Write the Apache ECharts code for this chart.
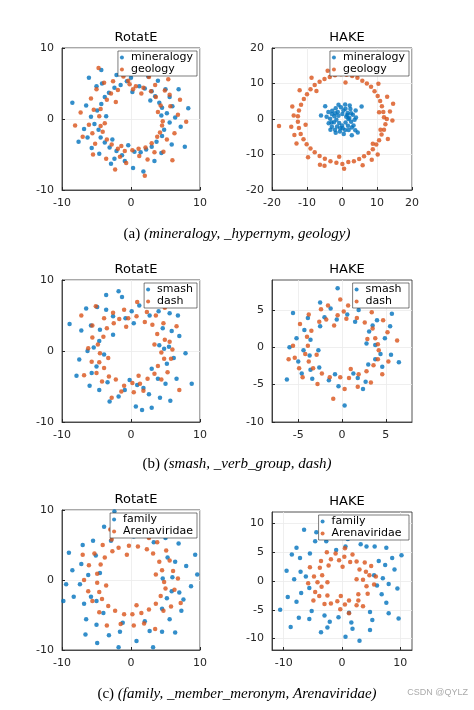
<!DOCTYPE html>
<html>
<head>
<meta charset="utf-8">
<script src="https://cdn.jsdelivr.net/npm/echarts@6/dist/echarts.min.js"></script>
<style>html,body{margin:0;padding:0;background:#fff}#main{width:474px;height:710px}</style>
</head>
<body>
<div id="main"></div>
<script>
// --- data ---
var r1RotMineralogy = [[5.2,0.8],[4.1,2.3],[3.0,3.9],[1.2,4.6],[-0.6,5.3],[-2.4,4.4],[-3.8,3.1],[-4.9,1.2],[-5.3,-0.7],[-4.4,-2.6],[-3.1,-4.0],[-1.3,-5.1],[0.5,-4.6],[2.2,-4.3],[3.7,-3.2],[4.8,-1.5],[6.4,0.2],[5.6,3.1],[3.9,5.4],[0.9,6.7],[-2.1,6.2],[-5.0,4.6],[-6.5,1.9],[-6.8,-1.4],[-5.7,-4.1],[-2.9,-6.3],[0.3,-6.9],[3.4,-5.9],[5.9,-3.6],[7.2,-1.1],[8.3,1.5],[-8.5,2.3],[-7.6,-3.2],[4.4,0.5],[-3.6,0.4],[0.2,3.8],[-0.4,-3.7],[2.8,2.6],[-2.7,-2.9],[6.9,4.2],[-4.3,6.9],[1.8,-7.4],[-6.1,5.8],[7.8,-3.9],
  [4.5,1.6],[3.5,3.2],[2.0,4.3],[-1.5,4.8],[-3.2,3.7],[-4.3,2.1],[-4.7,-1.5],[-3.8,-3.3],[-2.1,-4.5],[1.4,-4.7],[3.0,-3.9],[4.5,-2.4],[5.6,-0.5],[-5.8,0.3],[0.0,5.8],[-0.9,-5.9],[5.0,4.2],[-4.6,-4.9],[4.4,-4.8],[-4.2,5.0],[6.0,1.8],[-6.3,-2.6],[2.5,6.0],[-2.4,-5.6]];
var r1RotGeology = [[4.6,-0.3],[3.6,3.1],[1.8,4.4],[-0.2,4.9],[-1.9,4.1],[-3.5,2.7],[-4.6,0.4],[-4.1,-1.8],[-2.8,-3.6],[-0.9,-4.5],[1.1,-4.2],[3.0,-3.4],[4.2,-1.9],[5.7,1.8],[4.9,4.0],[2.6,5.9],[-1.1,6.0],[-3.9,5.1],[-5.8,2.9],[-6.1,-0.8],[-5.2,-3.5],[-3.6,-5.6],[-0.7,-6.2],[2.4,-5.7],[4.7,-4.6],[6.3,-2.0],[7.1,2.7],[-7.3,0.9],[-7.0,-2.5],[0.8,7.3],[-2.3,-7.1],[5.4,5.6],[-5.5,-5.0],[3.9,1.0],[-3.8,-0.6],[1.5,3.6],[-1.4,-3.8],[8.0,-0.4],[-4.7,7.2],[6.0,-5.8],[-8.1,-0.9],[2.0,-8.0],[0.3,4.2],[-2.2,2.4],
  [4.3,1.9],[2.9,3.9],[0.7,4.6],[-2.9,3.6],[-4.4,1.4],[-4.4,-1.0],[-3.5,-2.9],[-1.9,-4.2],[0.2,-4.4],[2.1,-4.0],[3.8,-2.5],[4.5,-0.9],[5.2,-2.9],[5.6,3.4],[-5.0,4.2],[-5.4,1.3],[-5.6,-2.0],[-1.6,-5.3],[1.2,-5.2],[3.5,4.8],[-2.6,5.3],[6.8,0.6],[-0.4,5.4],[3.4,-4.7]];
var r1HakeMineralogy = [[2.1,0.3],[1.6,1.7],[0.4,2.4],[-1.2,2.0],[-2.2,0.8],[-2.3,-0.9],[-1.4,-2.1],[0.2,-2.6],[1.7,-1.9],[2.6,-0.8],[3.1,1.2],[2.4,2.8],[-0.3,3.3],[-2.8,2.3],[-3.4,0.1],[-2.9,-2.2],[-0.6,-3.5],[1.9,-3.1],[3.3,-1.8],[1.2,0.6],[-1.0,0.9],[-0.8,-1.1],[1.0,-1.0],[0.1,1.4],[-1.6,-0.2],[4.0,0.4],[-3.8,-1.2],[0.9,4.1],[-1.8,-3.9],[5.6,3.5],[-6.0,1.0],[4.5,-3.8],[2.8,-4.6],[-4.8,3.6],[0.0,-1.8],[1.8,0.0],
  [2.6,1.6],[1.0,2.9],[-1.8,3.0],[-2.9,1.4],[-3.0,-1.0],[-2.0,-3.0],[0.9,-3.1],[2.8,-2.4],[3.6,-0.2],[3.9,2.4],[-3.9,2.0],[-1.0,4.0],[2.2,3.8],[-3.3,-3.0],[0.5,-4.2],[3.8,-3.2],[-4.4,0.6],[1.5,1.1],[-0.5,-2.6],[-1.9,1.6]];
var r1HakeGeology = [[12.0,0.5],[11.4,3.6],[10.2,6.5],[8.3,9.1],[5.8,10.8],[2.9,12.1],[-0.3,12.6],[-3.5,11.8],[-6.4,10.5],[-9.0,8.4],[-10.9,5.6],[-12.3,2.4],[-12.6,-0.8],[-11.8,-4.2],[-10.1,-7.1],[-7.8,-9.4],[-4.9,-11.2],[-1.6,-12.3],[1.8,-12.1],[4.9,-11.3],[7.6,-9.6],[9.8,-7.2],[11.3,-4.4],[12.4,-1.5],[13.7,2.1],[12.9,6.3],[10.4,9.9],[6.5,12.8],[1.4,14.2],[-4.1,13.6],[-8.7,11.6],[-12.1,8.1],[-14.2,3.5],[-14.5,-2.2],[-13.0,-6.9],[-9.7,-10.8],[-5.0,-13.2],[0.6,-14.0],[5.9,-13.0],[10.2,-10.0],[13.1,-5.6],[14.4,-0.4],[10.6,1.9],[-10.4,-1.6],[1.0,10.3],[-0.8,-10.6],[8.8,-7.0],[-7.3,7.9],[-18.0,-2.0],[11.0,-3.0],
  [11.8,2.0],[10.9,5.1],[9.3,7.8],[7.1,10.0],[4.4,11.6],[1.3,12.5],[-2.0,12.3],[-5.0,11.3],[-7.8,9.6],[-10.0,7.0],[-11.7,4.0],[-12.6,0.8],[-12.3,-2.5],[-11.0,-5.7],[-9.0,-8.3],[-6.4,-10.4],[-3.3,-11.9],[0.1,-12.7],[3.4,-11.9],[6.3,-10.5],[8.8,-8.5],[10.6,-6.0],[12.0,-3.0],[12.8,0.0],[-13.8,1.0],[-13.6,-4.5],[14.6,4.3],[3.6,13.5],[-6.3,-12.9],[8.5,-11.5]];

var r2RotSmash = [[5.5,0.6],[4.6,3.2],[2.7,5.0],[0.1,5.6],[-2.6,4.9],[-4.5,3.0],[-5.4,0.5],[-5.0,-2.2],[-3.4,-4.4],[-0.9,-5.5],[1.8,-5.2],[3.9,-3.9],[5.2,-1.8],[7.0,2.1],[5.6,5.3],[2.6,7.4],[-1.3,7.6],[-4.9,6.2],[-7.2,2.9],[-7.5,-1.2],[-6.0,-4.9],[-3.1,-7.1],[0.7,-7.8],[4.2,-6.6],[6.6,-3.9],[7.9,-0.3],[4.1,0.8],[-3.9,-0.5],[0.4,3.9],[-0.2,-4.1],[8.8,-4.6],[-8.9,3.8],[-6.5,6.0],[5.7,-7.0],[1.6,-8.3],[-1.8,8.4],[3.0,-2.5],[-2.6,2.3],
  [6.2,-1.0],[5.9,2.8],[4.0,5.6],[1.2,6.4],[-3.6,5.8],[-5.8,3.6],[-6.3,0.0],[-5.7,-3.1],[-4.6,-5.5],[-1.8,-6.4],[2.6,-6.1],[5.0,-4.6],[4.8,0.3],[-4.6,1.4],[0.9,-4.8],[-0.8,4.6],[6.8,5.0],[-7.9,-3.5],[3.0,-8.0],[-3.6,7.9]];
var r2RotDash = [[4.4,-0.2],[3.8,2.4],[2.0,4.1],[-0.4,4.6],[-2.5,3.9],[-4.0,2.0],[-4.5,-0.3],[-3.9,-2.4],[-2.2,-4.0],[0.2,-4.5],[2.4,-3.9],[3.9,-2.1],[5.6,1.3],[4.7,3.9],[2.3,5.5],[-1.0,5.8],[-3.9,4.6],[-5.6,1.9],[-5.7,-1.5],[-4.2,-4.3],[-1.4,-5.7],[1.8,-5.6],[4.4,-4.0],[5.8,-1.1],[6.6,3.5],[-6.8,-3.4],[0.9,6.9],[-2.8,-6.6],[3.4,0.9],[-3.3,-1.0],[-0.7,3.4],[1.1,-3.5],[-7.2,5.0],[7.0,-5.5],[-5.1,6.3],[4.9,6.1],
  [4.9,1.6],[3.1,3.7],[0.8,4.9],[-1.7,4.5],[-3.5,3.2],[-4.8,0.9],[-4.6,-1.6],[-3.2,-3.6],[-1.0,-4.9],[1.3,-4.6],[3.4,-3.2],[4.8,-1.1],[5.3,-3.0],[-5.6,3.6],[-5.0,-3.1],[3.6,5.0],[-2.6,5.4],[0.4,-5.8],[6.0,0.2],[-6.2,0.4]];
var r2HakeSmash = [[3.8,0.3],[3.1,2.1],[1.5,3.4],[-0.6,3.7],[-2.5,2.8],[-3.6,1.0],[-3.7,-1.1],[-2.6,-2.7],[-0.8,-3.6],[1.3,-3.5],[3.0,-2.3],[4.9,1.2],[4.0,3.6],[1.9,5.0],[-1.3,5.2],[-3.9,3.9],[-5.2,1.2],[-5.0,-1.9],[-3.4,-4.2],[-0.4,-5.2],[2.7,-4.6],[4.6,-2.6],[-6.3,-4.3],[6.5,-2.0],[-0.5,7.9],[0.3,-7.8],[5.7,4.5],[-5.6,4.6],[2.8,0.5],[-2.7,-0.4],
  [4.4,-0.9],[3.5,2.9],[0.6,4.4],[-2.0,4.0],[-4.3,2.3],[-4.4,-0.4],[-3.6,-3.0],[-1.5,-4.4],[1.8,-4.1],[3.8,-1.6],[5.5,2.8],[-4.6,-3.5],[2.4,-5.6],[-2.5,6.0],[5.6,-1.0],[-6.0,0.0]];
var r2HakeDash = [[4.2,-0.4],[3.5,2.5],[1.7,3.9],[-0.5,4.3],[-2.6,3.4],[-4.0,1.4],[-4.2,-0.9],[-3.3,-2.8],[-1.4,-4.0],[0.8,-4.1],[2.8,-3.2],[4.1,-1.6],[5.2,2.0],[3.4,4.7],[0.7,5.6],[-2.4,5.1],[-4.8,3.1],[-5.6,0.2],[-4.9,-2.8],[-2.8,-4.9],[0.3,-5.6],[3.3,-4.7],[5.3,-1.9],[2.9,1.1],[-2.9,-1.0],[-0.9,2.9],[1.0,-2.9],[2.2,6.9],[-1.0,-6.9],[6.3,0.9],[-6.1,-1.6],[-0.2,6.4],
  [3.8,1.2],[2.6,3.3],[0.5,3.8],[-1.8,3.7],[-3.5,2.2],[-3.9,0.2],[-3.8,-1.9],[-2.3,-3.5],[-0.2,-4.0],[1.9,-3.6],[3.6,-2.4],[4.1,0.4],[4.7,3.6],[-3.8,4.4],[-5.4,-1.4],[1.8,-5.3],[4.6,-3.6],[-1.6,5.6],[0.2,4.8],[-4.5,-4.0]];

var r3RotFamily = [[6.0,0.4],[5.3,3.2],[3.3,5.4],[0.4,6.2],[-2.9,5.6],[-5.1,3.5],[-6.2,0.7],[-5.8,-2.4],[-4.0,-4.7],[-1.2,-6.1],[2.0,-5.9],[4.5,-4.1],[5.9,-1.6],[8.0,2.0],[6.9,5.2],[4.0,7.6],[0.0,8.4],[-3.9,7.6],[-7.0,5.0],[-8.5,1.4],[-8.3,-2.4],[-6.5,-5.6],[-3.2,-7.9],[0.8,-8.7],[4.5,-7.4],[7.3,-4.4],[8.7,-0.9],[-9.4,-0.6],[9.3,3.6],[-4.9,-9.0],[2.5,9.3],[-1.8,-9.6],[-9.0,3.9],[6.4,-7.5],[4.6,0.2],[-4.5,1.0],
  [7.0,-1.8],[6.4,2.6],[5.0,6.0],[1.8,7.4],[-1.4,7.0],[-5.5,5.6],[-7.2,2.3],[-7.4,-0.6],[-6.8,-3.4],[-5.0,-6.4],[-1.6,-7.4],[2.7,-7.3],[5.6,-5.6],[7.6,-2.8],[9.6,0.8],[-9.8,-3.0],[-2.4,9.8],[3.2,-9.6],[-6.6,-7.8],[7.8,6.5],[-5.0,-3.0],[5.2,-2.6]];
var r3RotArena = [[4.8,-0.3],[4.1,2.6],[2.3,4.4],[-0.3,4.9],[-2.7,4.1],[-4.4,2.2],[-4.9,-0.4],[-4.2,-2.7],[-2.3,-4.4],[0.2,-4.9],[2.6,-4.2],[4.3,-2.3],[6.1,1.3],[5.1,4.2],[2.6,6.0],[-1.0,6.4],[-4.1,5.0],[-6.1,2.1],[-6.2,-1.6],[-4.6,-4.6],[-1.5,-6.3],[1.9,-6.2],[4.7,-4.4],[6.3,-1.4],[3.6,0.8],[-3.6,-0.8],[-0.6,3.6],[0.8,-3.6],[7.2,-3.3],[-7.0,3.6],[3.5,-7.0],[-3.0,7.2],
  [4.5,1.4],[3.2,3.8],[1.0,4.8],[-1.8,4.6],[-3.8,3.2],[-4.9,0.9],[-4.6,-1.7],[-3.3,-3.7],[-1.0,-4.9],[1.5,-4.7],[3.6,-3.4],[5.0,-1.2],[5.6,2.8],[-5.3,3.8],[-5.6,-3.0],[3.8,5.4],[-2.8,5.8],[0.4,-6.5],[6.8,0.2],[-6.8,0.0],[2.0,7.0],[-3.5,-6.5],[5.8,-3.8]];
var r3HakeFamily = [[7.0,0.5],[6.3,3.5],[4.2,6.0],[1.0,7.3],[-2.7,6.9],[-5.5,4.8],[-7.1,1.6],[-7.0,-2.1],[-5.2,-5.2],[-2.1,-7.1],[1.6,-7.2],[4.8,-5.4],[6.8,-2.3],[9.0,2.0],[7.6,5.8],[4.6,8.4],[0.0,9.5],[-4.4,8.5],[-7.8,5.8],[-9.5,1.8],[-9.3,-2.8],[-7.4,-6.4],[-3.6,-8.9],[0.6,-9.7],[4.8,-8.5],[8.0,-5.6],[9.5,-1.3],[5.5,1.0],[-5.6,-1.2],[-1.0,5.4],[1.2,-5.5],[-10.6,-5.0],[10.2,4.5],[-2.0,10.6],[3.0,-10.4],[-6.5,8.9],[7.4,8.0],[-8.8,-8.0],[9.7,-6.5],
  [8.0,-0.5],[7.4,2.8],[5.6,6.0],[2.5,7.9],[-1.2,8.2],[-4.6,6.9],[-7.2,4.0],[-8.2,0.3],[-7.8,-3.6],[-5.6,-6.6],[-2.5,-8.1],[1.8,-8.3],[5.2,-6.8],[7.6,-3.8],[6.0,-0.8],[-6.2,0.8],[0.6,6.0],[-0.6,-6.3],[8.6,4.0],[-8.6,4.6],[-3.0,-6.0],[3.2,6.4]];
var r3HakeArena = [[3.6,0.2],[3.0,2.0],[1.4,3.3],[-0.5,3.6],[-2.3,2.7],[-3.4,1.0],[-3.5,-1.0],[-2.5,-2.5],[-0.8,-3.5],[1.2,-3.4],[2.8,-2.3],[4.7,1.0],[3.9,3.2],[1.8,4.6],[-1.1,4.8],[-3.6,3.5],[-4.8,0.8],[-4.6,-1.9],[-3.0,-4.0],[-0.3,-4.9],[2.5,-4.2],[4.4,-2.2],[5.5,-0.6],[-5.5,2.4],[0.5,5.7],[2.5,0.3],[-2.5,-0.2],[0.1,2.5],[-0.2,-2.6],
  [4.1,1.6],[2.5,3.4],[0.4,4.2],[-1.9,3.8],[-3.8,2.3],[-4.2,-0.2],[-3.9,-2.6],[-1.9,-3.9],[0.5,-4.1],[2.8,-3.4],[4.2,-0.9],[5.0,2.6],[-4.9,-3.4],[3.6,-4.4],[-2.6,5.0],[1.2,-5.6],[5.8,0.8],[-5.8,-0.4]];

var BLUE = '#0072BD', ORANGE = '#D95319';

// one panel per entry: [left, top, width, height, xMin, xMax, xTicks, yMin, yMax, yTicks, title, names, blueData, orangeData]
var panels = [
  [62, 48, 138, 142, -10, 10, [-10, 0, 10], -10, 10, [-10, 0, 10], 'RotatE', ['mineralogy', 'geology'], r1RotMineralogy, r1RotGeology],
  [272, 48, 140, 142, -20, 20, [-20, -10, 0, 10, 20], -20, 20, [-20, -10, 0, 10, 20], 'HAKE', ['mineralogy', 'geology'], r1HakeMineralogy, r1HakeGeology],
  [62, 280, 138, 142, -10, 10, [-10, 0, 10], -10, 10, [-10, 0, 10], 'RotatE', ['smash', 'dash'], r2RotSmash, r2RotDash],
  [272, 280, 140, 142, -8, 8, [-5, 0, 5], -10, 9, [-10, -5, 0, 5], 'HAKE', ['smash ', 'dash '], r2HakeSmash, r2HakeDash],
  [62, 510, 138, 140, -10, 10, [-10, 0, 10], -10, 10, [-10, 0, 10], 'RotatE', ['family', 'Arenaviridae'], r3RotFamily, r3RotArena],
  [272, 512, 140, 138, -12, 12, [-10, 0, 10], -12, 12, [-10, -5, 0, 5, 10], 'HAKE', ['family ', 'Arenaviridae '], r3HakeFamily, r3HakeArena]
];

var chart = echarts.init(document.getElementById('main'));
var grids = [], xAxes = [], yAxes = [], series = [], titles = [], legends = [];

function makeAxis(i, min, max, ticks) {
  return {
    type: 'value', gridIndex: i, min: min, max: max,
    axisLine: { show: true, onZero: false, lineStyle: { color: '#262626', width: 0.8 } },
    axisTick: { show: true, inside: true, length: 3, customValues: ticks, lineStyle: { color: '#262626' } },
    axisLabel: { color: '#262626', fontSize: 11, fontFamily: 'DejaVu Sans', customValues: ticks },
    splitLine: { show: true, lineStyle: { color: '#ebebeb', width: 0.8 } }
  };
}

panels.forEach(function (p, i) {
  grids.push({ left: p[0], top: p[1], width: p[2], height: p[3], show: true, borderColor: '#262626', borderWidth: 0.8, backgroundColor: '#fff' });
  xAxes.push(makeAxis(i, p[4], p[5], p[6]));
  yAxes.push(makeAxis(i, p[7], p[8], p[9]));
  titles.push({ text: p[10], left: p[0] + p[2] / 2, top: p[1] - 22, textAlign: 'center',
    textStyle: { fontSize: 13, fontWeight: 'normal', color: '#000', fontFamily: 'DejaVu Sans' } });
  [[p[11][0], p[12], BLUE], [p[11][1], p[13], ORANGE]].forEach(function (s) {
    series.push({ type: 'scatter', name: s[0], xAxisIndex: i, yAxisIndex: i, data: s[1],
      symbolSize: 4.5, itemStyle: { color: s[2] }, silent: true });
  });
  legends.push({ data: p[11], orient: 'vertical', right: 474 - p[0] - p[2] + 3, top: p[1] + 3,
    backgroundColor: '#fff', borderColor: '#262626', borderWidth: 0.6, padding: [1, 4, 1, 2],
    itemGap: 1, itemWidth: 12, itemHeight: 4, icon: 'circle', selectedMode: false,
    textStyle: { fontSize: 11, color: '#000', fontFamily: 'DejaVu Sans', padding: [0, 0, 0, -2] } });
});

var captions = [
  ['(a) ', '(mineralogy, _hypernym, geology)', 222],
  ['(b) ', '(smash, _verb_group, dash)', 452],
  ['(c) ', '(family, _member_meronym, Arenaviridae)', 682]
];
captions.forEach(function (c) {
  titles.push({ text: '{n|' + c[0] + '}{i|' + c[1] + '}', left: 'center', top: c[2],
    textStyle: { fontWeight: 'normal', rich: {
      n: { fontFamily: 'Liberation Serif', fontWeight: 'normal', fontSize: 15, color: '#000' },
      i: { fontFamily: 'Liberation Serif', fontWeight: 'normal', fontStyle: 'italic', fontSize: 15, color: '#000' } } } });
});

chart.setOption({
  backgroundColor: '#fff',
  animation: false,
  title: titles,
  legend: legends,
  grid: grids,
  xAxis: xAxes,
  yAxis: yAxes,
  series: series,
  graphic: [{ type: 'text', right: 6, top: 688, style: { text: 'CSDN @QYLZ', fontSize: 9, fill: '#aaa' } }]
});
</script>
</body>
</html>
